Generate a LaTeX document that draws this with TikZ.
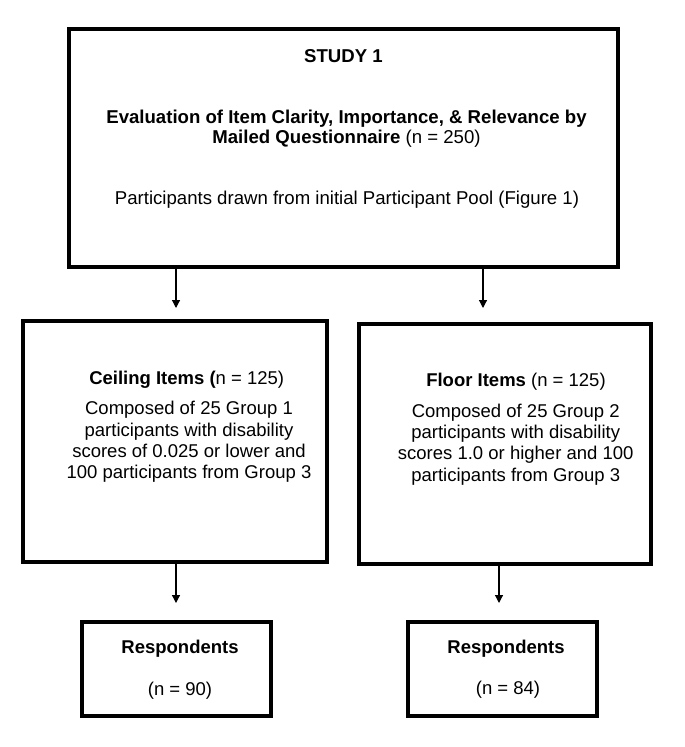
\documentclass[tikz,border=0pt]{standalone}
\usepackage{fontspec}
\setmainfont{Liberation Sans}
\usetikzlibrary{arrows.meta}

\begin{document}
\begin{tikzpicture}[x=1pt, y=-1pt,
  box/.style={draw, line width=4pt, inner sep=0pt},
  txt/.style={align=center, inner sep=0pt, font=\fontsize{18.5}{21.3}\selectfont},
  toptxt/.style={align=center, inner sep=0pt, font=\fontsize{18.6}{20}\selectfont},
  arr/.style={-{Triangle[length=8pt, width=8pt]}, line width=1.2pt}]
\useasboundingbox (0,0) rectangle (685,747);
\node[box, minimum width=549pt, minimum height=238pt] (study) at (343.5,148) {};
\node[box, minimum width=303.5pt, minimum height=241pt] (ceiling) at (174.75,441) {};
\node[box, minimum width=292pt, minimum height=239.5pt] (floor) at (504.5,443.75) {};
\node[box, minimum width=189pt, minimum height=94pt] (resp1) at (176,668.5) {};
\node[box, minimum width=189pt, minimum height=93.5pt] (resp2) at (502,668.75) {};
\node[toptxt, font=\fontsize{18.6}{20}\selectfont\bfseries] (studytitle) at (343.5,56) {STUDY 1};
\node[toptxt] (eval) at (346.5,129) {\textbf{Evaluation of Item Clarity, Importance, \& Relevance by}\\\textbf{Mailed Questionnaire} (n = 250)};
\node[toptxt] (pool) at (347,200) {Participants drawn from initial Participant Pool (Figure 1)};
\node[txt] (ceiltitle) at (186.7,380) {\textbf{Ceiling Items (}n = 125)};
\node[txt] (ceilbody) at (189,442) {Composed of 25 Group 1\\participants with disability\\scores of 0.025 or lower and\\100 participants from Group 3};
\node[txt] (floortitle) at (516,382) {\textbf{Floor Items} (n = 125)};
\node[txt] (floorbody) at (515.7,444.5) {Composed of 25 Group 2\\participants with disability\\scores 1.0 or higher and 100\\participants from Group 3};
\node[txt, font=\fontsize{18.5}{21.3}\selectfont\bfseries] (resptitle1) at (180,649) {Respondents};
\node[txt] (n1) at (180,691) {(n = 90)};
\node[txt, font=\fontsize{18.5}{21.3}\selectfont\bfseries] (resptitle2) at (506,649) {Respondents};
\node[txt] (n2) at (508,690) {(n = 84)};
\coordinate (a1) at (176,0);
\coordinate (a2) at (483,0);
\coordinate (a3) at (499,0);
\draw[arr, shorten >=10.5pt] (study.south -| a1) -- (ceiling.north -| a1);
\draw[arr, shorten >=14pt] (study.south -| a2) -- (floor.north -| a2);
\draw[arr, shorten >=16.5pt] (ceiling.south -| a1) -- (resp1.north -| a1);
\draw[arr, shorten >=17pt] (floor.south -| a3) -- (resp2.north -| a3);
\end{tikzpicture}
\end{document}
